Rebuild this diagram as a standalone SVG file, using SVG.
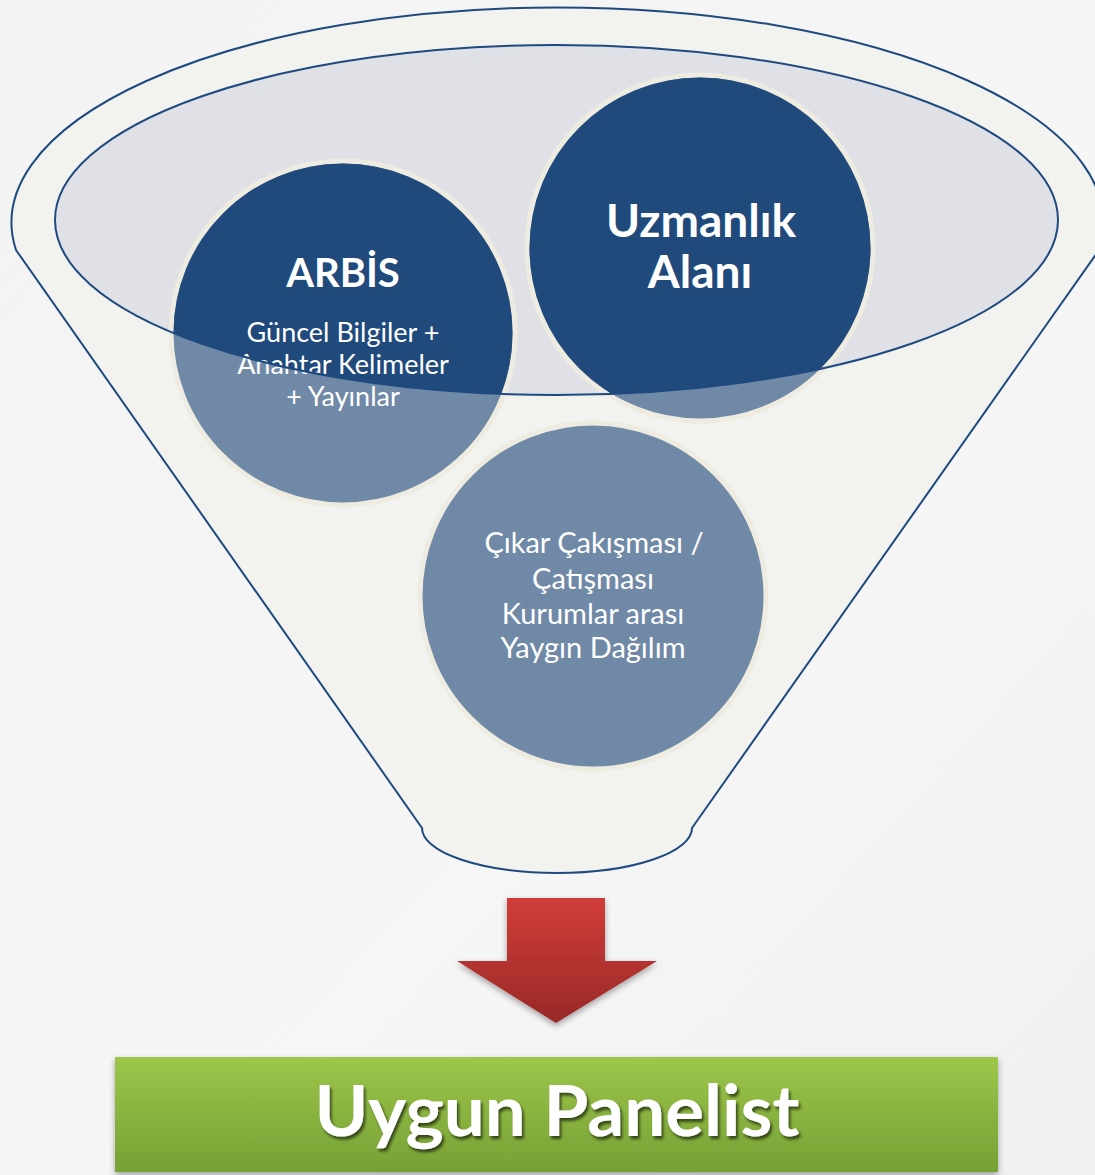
<svg xmlns="http://www.w3.org/2000/svg" width="1095" height="1175" viewBox="0 0 1095 1175">
<style>
.edge{fill:none;stroke:#1f4a80;stroke-width:2}
.lt{fill:#7089a6;stroke:#eeece1;stroke-width:5}
.dk{fill:#204a7c}
.t{font-family:Lato,"Open Sans","Liberation Sans",sans-serif;fill:#ffffff;text-anchor:middle}
.b{font-weight:bold}
</style>
<defs>
<clipPath id="inner"><ellipse cx="556.5" cy="220" rx="501.5" ry="175"/></clipPath>
<linearGradient id="red" x1="0" y1="0" x2="0" y2="1"><stop offset="0" stop-color="#d13d39"/><stop offset="1" stop-color="#982927"/></linearGradient>
<linearGradient id="green" x1="0" y1="0" x2="0" y2="1"><stop offset="0" stop-color="#9dc64b"/><stop offset="1" stop-color="#76a034"/></linearGradient>
<linearGradient id="bg" x1="0" y1="0" x2="1" y2="1"><stop offset="0" stop-color="#f3f3f3"/><stop offset="0.6" stop-color="#f6f6f6"/><stop offset="1" stop-color="#f0f0f0"/></linearGradient>
<filter id="sh" x="-20%" y="-20%" width="140%" height="150%"><feDropShadow dx="0" dy="3" stdDeviation="3" flood-color="#000" flood-opacity="0.35"/></filter>
<filter id="tsh" x="-10%" y="-20%" width="120%" height="140%"><feDropShadow dx="2" dy="3" stdDeviation="1.5" flood-color="#000" flood-opacity="0.6"/></filter>
</defs>
<rect width="1095" height="1175" fill="url(#bg)"/>
<g id="funnel">
<path d="M16,250 A546,215 0 1 1 1099,250 L692,828 A135,45 0 0 1 422,828 Z" fill="#f2f2ee" stroke="#1f4a80" stroke-width="2"/>
<ellipse cx="556.5" cy="220" rx="501.5" ry="175" fill="#dfe1e7"/>
</g>
<g id="node-arbis">
<circle class="lt" cx="343" cy="333" r="172"/>
<circle class="dk" cx="343" cy="333" r="169.5" clip-path="url(#inner)"/>
<text class="t b" x="343" y="287" font-size="40">ARBİS</text>
<text class="t" x="343" y="342" font-size="27">Güncel Bilgiler +</text>
<text class="t" x="343" y="374" font-size="27">Anahtar Kelimeler</text>
<text class="t" x="343" y="406" font-size="27">+ Yayınlar</text>
</g>
<g id="node-uzmanlik">
<circle class="lt" cx="700" cy="248" r="173"/>
<circle class="dk" cx="700" cy="248" r="170.5" clip-path="url(#inner)"/>
<text class="t b" x="701" y="237" font-size="46">Uzmanlık</text>
<text class="t b" x="700" y="288" font-size="46">Alanı</text>
</g>
<g id="node-cikar">
<circle class="lt" cx="593" cy="596" r="173"/>
<text class="t" x="594" y="553" font-size="29" fill="#f2f2f2">Çıkar Çakışması /</text>
<text class="t" x="593" y="589" font-size="29">Çatışması</text>
<text class="t" x="593" y="624" font-size="29">Kurumlar arası</text>
<text class="t" x="593" y="658" font-size="29">Yaygın Dağılım</text>
</g>
<g id="funnel-rim">
<ellipse class="edge" cx="556.5" cy="220" rx="501.5" ry="175"/>
</g>
<g id="connectors">
<polygon points="507,898 605,898 605,961 657,961 556,1023 457,961 507,961" fill="url(#red)" filter="url(#sh)"/>
</g>
<g id="node-result">
<rect x="115" y="1057" width="883" height="115" fill="url(#green)" filter="url(#sh)"/>
<text class="t b" x="557" y="1136" font-size="70" textLength="485" lengthAdjust="spacingAndGlyphs" filter="url(#tsh)">Uygun Panelist</text>
</g>
</svg>
